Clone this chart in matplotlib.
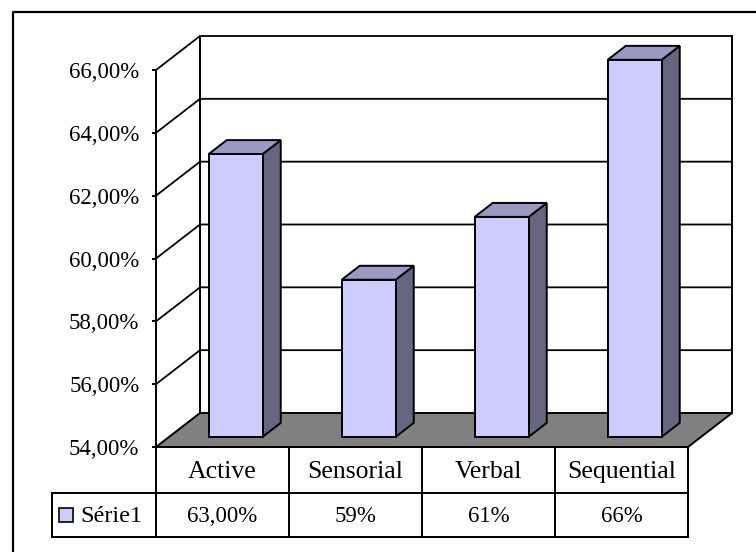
import matplotlib
matplotlib.use("Agg")
import matplotlib.pyplot as plt
import matplotlib.transforms as mtransforms
from matplotlib.patches import Polygon, Rectangle
from matplotlib.lines import Line2D

# ---- data ----
categories = ["Active", "Sensorial", "Verbal", "Sequential"]
values = [63.0, 59.0, 61.0, 66.0]
value_labels = ["63,00%", "59%", "61%", "66%"]
series_name = "Série1"
y_ticks = [54, 56, 58, 60, 62, 64, 66]

# ---- look ----
FRONT = "#ccccff"
TOP = "#9999c4"
SIDE = "#666680"
FLOOR = "#808080"
LW = 1.4

W, H = 756, 552
plt.rcParams["font.family"] = ["Liberation Serif", "DejaVu Serif"]
fig = plt.figure(figsize=(W / 100, H / 100), dpi=100)

# front plane of the 3d box (pixels)
px_left, px_right, px_bottom, px_top = 156, 688, 447, 70
ax = fig.add_axes([px_left / W, 1 - px_bottom / H,
                   (px_right - px_left) / W, (px_bottom - px_top) / H])
ax.set_xlim(-0.5, len(categories) - 0.5)
ax.set_ylim(y_ticks[0], y_ticks[-1])

ax_w = px_right - px_left
ax_h = px_bottom - px_top
cat_px = ax_w / len(categories)
unit_px = ax_h / (y_ticks[-1] - y_ticks[0])

# depth vector (data units) for z in [0, 1]
DX = 44 / cat_px
DY = 34 / unit_px
x0, x1 = -0.5, len(categories) - 0.5
ymin, ymax = y_ticks[0], y_ticks[-1]


def p(x, y, z):
    return (x + z * DX, y + z * DY)


def line(pts, **kw):
    xs, ys = zip(*pts)
    ax.add_line(Line2D(xs, ys, color="black", lw=kw.pop("lw", LW),
                       clip_on=False, solid_capstyle="projecting", **kw))


# back wall + left wall
for t in y_ticks[1:]:
    line([p(x0, t, 0), p(x0, t, 1), p(x1, t, 1)], lw=1.3)
line([p(x0, ymin, 1), p(x0, ymax, 1)])
line([p(x1, ymin, 1), p(x1, ymax, 1)])

# floor
ax.add_patch(Polygon([p(x0, ymin, 0), p(x1, ymin, 0), p(x1, ymin, 1), p(x0, ymin, 1)],
                     closed=True, facecolor=FLOOR, edgecolor="black", lw=LW,
                     clip_on=False, joinstyle="miter"))

# bars
bw = 54 / cat_px
z0, z1 = 0.30, 0.71
for i, v in enumerate(values):
    a, b = i - bw / 2, i + bw / 2
    front = [p(a, ymin, z0), p(b, ymin, z0), p(b, v, z0), p(a, v, z0)]
    side = [p(b, ymin, z0), p(b, ymin, z1), p(b, v, z1), p(b, v, z0)]
    top = [p(a, v, z0), p(b, v, z0), p(b, v, z1), p(a, v, z1)]
    for poly, col in ((side, SIDE), (top, TOP), (front, FRONT)):
        ax.add_patch(Polygon(poly, closed=True, facecolor=col, edgecolor="black",
                             lw=LW, clip_on=False, joinstyle="miter", zorder=3))

# value axis
ax.patch.set_visible(False)
for s in ("top", "right", "bottom"):
    ax.spines[s].set_visible(False)
ax.spines["left"].set_linewidth(LW)
ax.spines["left"].set_zorder(4)
ax.set_xticks([])
ax.set_yticks(y_ticks)
ax.set_yticklabels([f"{t:.2f}".replace(".", ",") + "%" for t in y_ticks])
ax.tick_params(axis="y", direction="out", length=3, width=LW, pad=9, labelsize=16.5)

# data table under the chart
tr = mtransforms.blended_transform_factory(ax.transData, ax.transAxes)
r0, r1, r2 = 0.0, -46 / ax_h, -90 / ax_h
x_leg = x0 - 104 / cat_px


def tline(xs, ys):
    fig.add_artist(Line2D(xs, ys, transform=tr, color="black", lw=LW,
                          solid_capstyle="projecting"))


tline([x0, x1], [r0, r0])
tline([x_leg, x1], [r1, r1])
tline([x_leg, x1], [r2, r2])
tline([x_leg, x_leg], [r1, r2])
for k in range(len(categories) + 1):
    tline([x0 + k, x0 + k], [r0, r2])

for i, (c, lab) in enumerate(zip(categories, value_labels)):
    ax.text(i, (r0 + r1) / 2 - 2 / ax_h, c, transform=tr, ha="center", va="center",
            fontsize=18.5, clip_on=False)
    ax.text(i, (r1 + r2) / 2 - 2 / ax_h, lab, transform=tr, ha="center", va="center",
            fontsize=16.5, clip_on=False)

ym = (r1 + r2) / 2
ax.add_patch(Rectangle((x_leg + 7 / cat_px, ym - 7 / ax_h), 14 / cat_px, 14 / ax_h,
                       transform=tr, facecolor=FRONT, edgecolor="black", lw=1.2,
                       clip_on=False))
ax.text(x_leg + 28 / cat_px, ym - 2 / ax_h, series_name, transform=tr, ha="left",
        va="center", fontsize=17.5, clip_on=False)

# outer chart frame (right/bottom edges fall outside the picture)
fig.add_artist(Line2D([13 / W, 13 / W, 1.0], [0.0, 1 - 12 / H, 1 - 12 / H],
                      transform=fig.transFigure, color="black", lw=1.6))

fig.savefig("out.png", dpi=100)
